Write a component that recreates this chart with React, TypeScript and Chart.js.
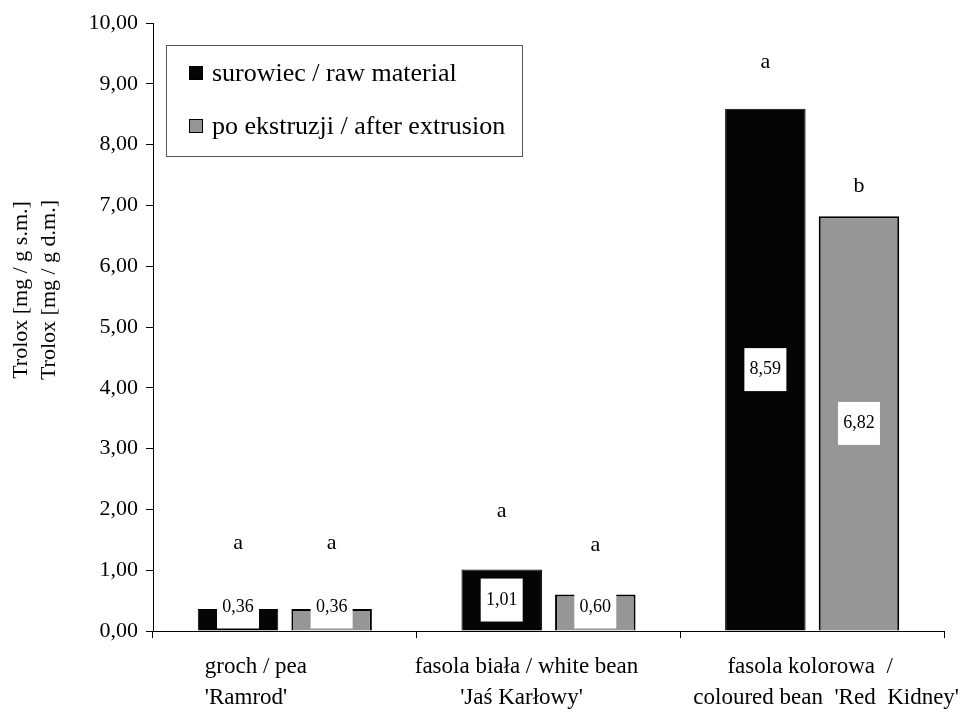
import React, { useEffect, useRef } from "react";
import { Chart, registerables } from "chart.js";

Chart.register(...registerables);

const categories: string[][] = [
  ["groch / pea", "'Ramrod'"],
  ["fasola biała / white bean", "'Jaś Karłowy'"],
  ["fasola kolorowa  /", "coloured bean  'Red  Kidney'"],
];
const seriesNames = ["surowiec / raw material", "po ekstruzji / after extrusion"];
const rawValues = [0.36, 1.01, 8.59];
const extrudedValues = [0.36, 0.6, 6.82];
const rawLetters = ["a", "a", "a"];
const extrudedLetters = ["a", "a", "b"];
// heights (in axis units) at which the significance letters are written
const rawLetterLevels = [1.45, 1.97, 9.36];
const extrudedLetterLevels = [1.45, 1.41, 7.32];
const yTickMin = 0;
const yTickMax = 10;
const yTickStep = 1;
const yTitleLines = ["Trolox [mg / g s.m.]", "Trolox [mg / g d.m.]"];

const FONT = "'Liberation Serif', 'Times New Roman', serif";
const fmt = (v: number) => v.toFixed(2).replace(".", ",");

export default function App() {
  const ref = useRef<HTMLCanvasElement | null>(null);
  useEffect(() => {
    document.body.style.margin = "0";
    const canvas = ref.current!;
    const letters = [rawLetters, extrudedLetters];
    const letterLevels = [rawLetterLevels, extrudedLetterLevels];

    const overlay = {
      id: "overlay",
      afterDatasetsDraw(chart: any) {
        const ctx = chart.ctx;
        const yScale = chart.scales.y;
        const xScale = chart.scales.x;
        ctx.save();
        // value boxes and letters
        chart.data.datasets.forEach((ds: any, di: number) => {
          const meta = chart.getDatasetMeta(di);
          meta.data.forEach((bar: any, i: number) => {
            const base = bar.base;
            const mid = (bar.y + base) / 2;
            const bw = 42;
            const bh = 43;
            let top = mid - bh / 2;
            if (top + bh > base - 2) top = base - 2 - bh;
            ctx.fillStyle = "#fff";
            ctx.fillRect(bar.x - bw / 2, top, bw, bh);
            ctx.fillStyle = "#000";
            ctx.font = `18px ${FONT}`;
            ctx.textAlign = "center";
            ctx.textBaseline = "middle";
            ctx.fillText(fmt(ds.data[i]), bar.x, top + bh / 2);
            ctx.font = `22px ${FONT}`;
            ctx.fillText(letters[di][i], bar.x, yScale.getPixelForValue(letterLevels[di][i]));
          });
        });
        // category labels
        const labelLayout = [
          { align: "left", dx: [-80, -80] },
          { align: "center", dx: [-22, -27] },
          { align: "center", dx: [-2, 14] },
        ];
        ctx.font = `23px ${FONT}`;
        ctx.textBaseline = "middle";
        categories.forEach((lines, i) => {
          const cx = xScale.getPixelForValue(i);
          const lay = labelLayout[i];
          ctx.textAlign = lay.align;
          lines.forEach((ln, li) => {
            ctx.fillText(ln, cx + lay.dx[li], 667 + li * 31);
          });
        });
        // y axis title
        ctx.font = `22px ${FONT}`;
        ctx.textAlign = "center";
        yTitleLines.forEach((t, li) => {
          ctx.save();
          ctx.translate(21 + li * 28, 290);
          ctx.rotate(-Math.PI / 2);
          ctx.fillText(t, 0, 0);
          ctx.restore();
        });
        // legend
        ctx.fillStyle = "#fff";
        ctx.fillRect(166, 45, 356, 111);
        ctx.strokeStyle = "#555";
        ctx.lineWidth = 1;
        ctx.strokeRect(166.5, 45.5, 356, 111);
        ctx.font = `26px ${FONT}`;
        ctx.textAlign = "left";
        chart.data.datasets.forEach((ds: any, di: number) => {
          const cy = 73 + di * 53;
          ctx.fillStyle = ds.backgroundColor;
          ctx.fillRect(189, cy - 7, 14, 14);
          ctx.strokeStyle = "#000";
          ctx.lineWidth = 1;
          ctx.strokeRect(189.5, cy - 6.5, 13, 13);
          ctx.fillStyle = "#000";
          ctx.fillText(ds.label, 212, cy + 1);
        });
        ctx.restore();
      },
    };

    const chart = new Chart(canvas, {
      type: "bar",
      data: {
        labels: categories.map((c) => c.join(" ")),
        datasets: [
          {
            label: seriesNames[0],
            data: rawValues,
            backgroundColor: "#050505",
            borderColor: "#000",
            borderWidth: 1,
            categoryPercentage: 0.71,
            barPercentage: 0.86,
          },
          {
            label: seriesNames[1],
            data: extrudedValues,
            backgroundColor: "#969696",
            borderColor: "#000",
            borderWidth: 2,
            categoryPercentage: 0.71,
            barPercentage: 0.86,
          },
        ],
      },
      options: {
        responsive: false,
        animation: false,
        layout: { padding: { left: 0, right: 18, top: 23, bottom: 0 } },
        plugins: { legend: { display: false }, tooltip: { enabled: false } },
        scales: {
          x: {
            grid: { drawOnChartArea: false, color: "#000", tickLength: 7, offset: true },
            border: { color: "#000", width: 1 },
            ticks: { display: false },
            afterFit: (s: any) => {
              s.height = 84;
            },
          },
          y: {
            min: yTickMin,
            max: yTickMax,
            grid: { drawOnChartArea: false, color: "#000", tickLength: 7 },
            border: { color: "#000", width: 1 },
            ticks: {
              stepSize: yTickStep,
              color: "#000",
              padding: 8,
              font: { family: FONT, size: 22 },
              callback: (v: any) => fmt(Number(v)),
            },
            afterFit: (s: any) => {
              s.width = 153;
            },
          },
        },
      },
      plugins: [overlay],
    });
    return () => chart.destroy();
  }, []);
  return (
    <div style={{ width: 962, height: 715 }}>
      <canvas ref={ref} width={962} height={715} />
    </div>
  );
}
